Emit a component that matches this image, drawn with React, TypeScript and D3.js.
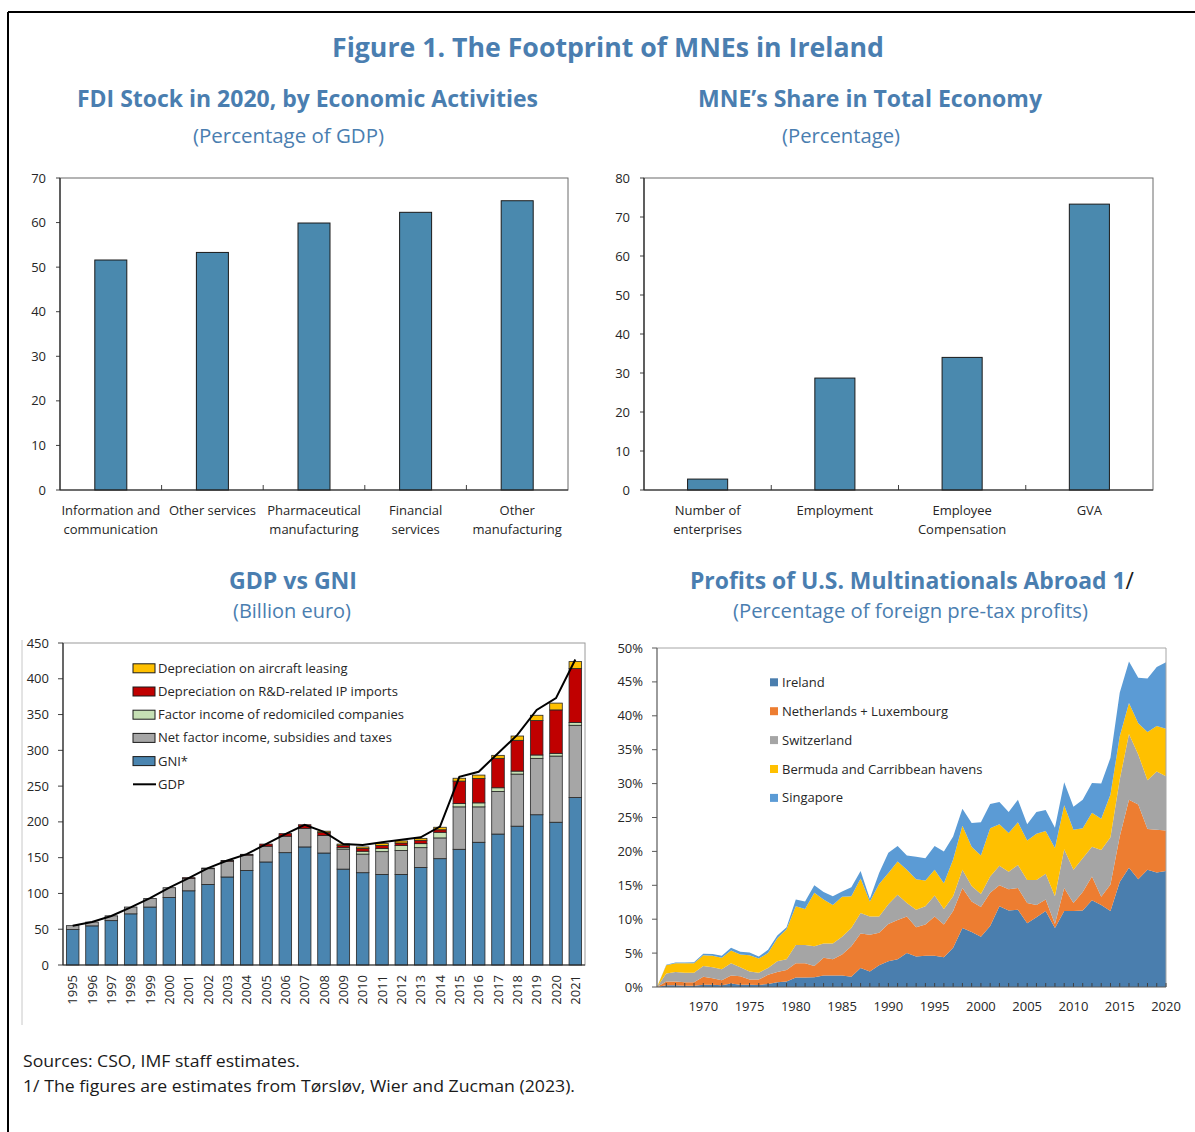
import React from 'react';
import * as d3 from 'd3';

// ---------- Data ----------
const fdiCategories = [['Information and', 'communication'], ['Other services'], ['Pharmaceutical', 'manufacturing'], ['Financial', 'services'], ['Other', 'manufacturing']];
const fdiValues = [51.6, 53.3, 59.9, 62.3, 64.9];

const mneCategories = [['Number of', 'enterprises'], ['Employment'], ['Employee', 'Compensation'], ['GVA']];
const mneValues = [2.8, 28.7, 34.0, 73.3];

const gdpYears = ['1995', '1996', '1997', '1998', '1999', '2000', '2001', '2002', '2003', '2004', '2005', '2006', '2007', '2008', '2009', '2010', '2011', '2012', '2013', '2014', '2015', '2016', '2017', '2018', '2019', '2020', '2021'];
const gniStar = [49.5, 54.7, 62, 71.5, 81, 94.4, 103.7, 112.6, 123, 132, 144, 157, 165, 156.5, 134, 129, 126.6, 126.6, 136.4, 148.6, 161.7, 171.5, 183, 194, 210, 199.5, 234];
const netFactorIncome = [5.5, 5.3, 6.7, 9.5, 12, 13.6, 17.5, 22, 22, 21.5, 22, 23, 26, 24.5, 28, 26, 31.8, 33.4, 27.6, 29, 59.3, 49.5, 59.5, 72.8, 78.8, 92.5, 101];
const redomiciledIncome = [0, 0, 0, 0, 0, 0, 0, 0, 0, 0, 0, 0, 0, 0, 2, 4, 4.6, 7, 5.6, 7.9, 4.7, 5.6, 5.2, 4.2, 4.7, 3.8, 4];
const rdDepreciation = [0, 0, 0, 0, 0, 0, 0.8, 0.9, 1, 1.2, 3, 3.6, 5, 4, 3.3, 4, 4, 3.5, 4.7, 3.5, 31.3, 34.1, 41.1, 43, 48.1, 60.7, 75.5];
const aircraftDepreciation = [0, 0, 0, 0, 0, 0, 0, 0, 0, 0, 0, 0, 0, 2, 1.7, 2, 3, 2.9, 2.7, 3.5, 4, 4.7, 4.2, 6, 7.4, 9.5, 9.5];
const gdpValues = [55, 60, 68.5, 80.5, 93.5, 108, 121.5, 135.5, 146, 155, 169, 183, 196, 186, 169, 167.7, 171.5, 175, 178.5, 193.5, 263, 270, 296, 321.5, 356.5, 373, 427];
const gdpLegend = ['Depreciation on aircraft leasing', 'Depreciation on R&D-related IP imports', 'Factor income of redomiciled companies', 'Net factor income, subsidies and taxes', 'GNI*', 'GDP'];

const profitYears = d3.range(1965, 2021);
const ireland = [0, .25, .25, .2, .2, .35, .35, .25, .5, .35, .35, .3, .45, .7, .8, 1.4, 1.4, 1.45, 1.7, 1.7, 1.7, 1.5, 2.8, 2.3, 3.2, 3.8, 4.1, 5.0, 4.5, 4.6, 4.6, 4.4, 5.8, 8.7, 8.1, 7.4, 9.0, 11.9, 11.3, 11.4, 9.4, 10.3, 11.2, 8.7, 11.2, 11.2, 11.3, 12.8, 12.1, 11.2, 15.5, 17.6, 15.9, 17.3, 16.9, 17.1];
const netherlandsLux = [0, .55, .55, .5, .5, 1.15, .95, .75, 1.2, 1.25, .75, .8, 1.35, 1.5, 1.7, 2.1, 2.1, 1.65, 2.6, 2.4, 3.1, 4.5, 5.1, 5.4, 4.8, 5.5, 5.8, 5.4, 4.3, 4.6, 5.8, 4.8, 5.4, 5.9, 4.5, 4.4, 4.9, 3.1, 3.1, 3.2, 3.0, 1.8, 1.7, 0.6, 3.4, 1.2, 2.7, 3.5, 1.2, 3.9, 6.7, 10.0, 11.0, 6.0, 6.3, 6.0];
const switzerland = [0, 1.2, 1.4, 1.4, 1.4, 1.6, 1.6, 1.6, 1.8, 1.3, 1.2, 1.0, 1.0, 1.6, 1.6, 2.7, 2.7, 2.9, 2.1, 2.3, 2.6, 2.7, 3.0, 2.7, 2.4, 2.9, 3.7, 2.0, 2.6, 2.7, 3.1, 2.3, 2.2, 2.7, 2.3, 1.9, 2.4, 2.9, 2.6, 3.4, 3.4, 3.7, 3.8, 4.1, 5.7, 4.9, 5.0, 4.4, 6.9, 7.0, 8.4, 9.7, 7.4, 7.2, 8.6, 8.0];
const bermudaCaribbean = [0, 1.2, 1.3, 1.4, 1.4, 1.6, 1.7, 1.7, 1.9, 1.9, 2.4, 2.1, 2.2, 3.4, 4.4, 5.7, 5.3, 7.9, 6.5, 5.7, 5.9, 4.7, 5.1, 2.2, 4.8, 4.6, 4.9, 4.9, 4.5, 3.8, 3.8, 3.8, 5.4, 6.5, 5.8, 5.7, 7.1, 6.1, 5.7, 6.3, 5.8, 6.8, 6.3, 7.1, 6.5, 5.9, 4.4, 5.0, 4.6, 6.3, 6.4, 4.6, 4.6, 7.1, 6.7, 7.0];
const singapore = [0, .1, .1, .1, .15, .2, .25, .3, .4, .4, .4, .3, .5, .4, .3, 1.0, 1.1, 1.1, 1.1, 1.3, .8, 1.3, 1.1, .4, 1.6, 3.0, 2.3, 2.1, 3.3, 3.3, 3.5, 4.7, 3.4, 2.5, 3.5, 4.9, 3.6, 3.3, 3.1, 3.3, 2.4, 3.2, 3.1, 3.0, 3.4, 3.4, 4.2, 4.4, 5.2, 5.4, 6.4, 6.1, 6.7, 7.9, 8.7, 9.8];
const profitLegend = ['Ireland', 'Netherlands + Luxembourg', 'Switzerland', 'Bermuda and Carribbean havens', 'Singapore'];
const profitYearLabels = [1970, 1975, 1980, 1985, 1990, 1995, 2000, 2005, 2010, 2015, 2020];

// ---------- Style ----------
const FONT = "'Open Sans', 'Noto Sans', sans-serif";
const TITLE_BLUE = '#4A7EB0';
const TEXT = '#262626';
const BAR_BLUE = '#4A89AE';

type Plot = { x: number; y: number; w: number; h: number };

function Title({ x, y, text, len, size, bold, children }: any) {
  return (
    <text x={x} y={y} textAnchor="middle" fontFamily={FONT} fontSize={size} fontWeight={bold ? 700 : 400}
      fill={TITLE_BLUE} textLength={len} lengthAdjust="spacingAndGlyphs">
      {children ?? text}
    </text>
  );
}

function BarPanel({ plot, cats, values, ymax, step }: { plot: Plot; cats: string[][]; values: number[]; ymax: number; step: number }) {
  const x = d3.scaleBand<number>().domain(values.map((_, i) => i)).range([plot.x, plot.x + plot.w]).paddingInner(0.685).paddingOuter(0.3425);
  const y = d3.scaleLinear().domain([0, ymax]).range([plot.y + plot.h, plot.y]);
  const stepW = plot.w / values.length;
  const bottom = plot.y + plot.h;
  return (
    <g>
      <rect x={plot.x} y={plot.y} width={plot.w} height={plot.h} fill="none" stroke="#6b6b6b" strokeWidth={1} />
      {y.ticks(ymax / step).map(t => (
        <g key={t}>
          <line x1={plot.x - 4} x2={plot.x} y1={y(t)} y2={y(t)} stroke="#404040" />
          <text x={plot.x - 14} y={y(t) + 4.5} textAnchor="end" fontFamily={FONT} fontSize={13} fill={TEXT}>{t}</text>
        </g>
      ))}
      {values.map((v, i) => (
        <rect key={i} x={x(i)} y={y(v)} width={x.bandwidth()} height={bottom - y(v)} fill={BAR_BLUE} stroke="#1a1a1a" strokeWidth={1} />
      ))}
      {d3.range(1, values.length).map(i => (
        <line key={i} x1={plot.x + i * stepW} x2={plot.x + i * stepW} y1={bottom} y2={bottom - 5} stroke="#404040" />
      ))}
      <line x1={plot.x} x2={plot.x} y1={plot.y} y2={bottom} stroke="#262626" strokeWidth={1.2} />
      <line x1={plot.x} x2={plot.x + plot.w} y1={bottom} y2={bottom} stroke="#262626" strokeWidth={1.2} />
      {cats.map((lines, i) => (
        <text key={i} textAnchor="middle" fontFamily={FONT} fontSize={13} fill={TEXT}>
          {lines.map((l, j) => (
            <tspan key={j} x={(x(i) as number) + x.bandwidth() / 2} y={bottom + 25 + j * 19}>{l}</tspan>
          ))}
        </text>
      ))}
    </g>
  );
}

function GdpPanel() {
  const plot: Plot = { x: 63, y: 643, w: 522, h: 322 };
  const bottom = plot.y + plot.h;
  const x = d3.scaleBand<string>().domain(gdpYears).range([plot.x, plot.x + plot.w]).paddingInner(0.35).paddingOuter(0.175);
  const y = d3.scaleLinear().domain([0, 450]).range([bottom, plot.y]);
  const keys = ['gni', 'nfi', 'redom', 'rd', 'air'];
  const colors: Record<string, string> = { gni: '#4A85B0', nfi: '#A6A6A6', redom: '#C6E0B4', rd: '#C00000', air: '#FFC000' };
  const rows = gdpYears.map((yr, i) => ({ year: yr, gni: gniStar[i], nfi: netFactorIncome[i], redom: redomiciledIncome[i], rd: rdDepreciation[i], air: aircraftDepreciation[i] }));
  const stack = d3.stack<any>().keys(keys)(rows);
  const line = d3.line<number>().x((_, i) => (x(gdpYears[i]) as number) + x.bandwidth() / 2).y(d => y(d));
  const legendColors = [colors.air, colors.rd, colors.redom, colors.nfi, colors.gni];
  return (
    <g>
      <line x1={22} x2={22} y1={640} y2={1025} stroke="#c8c8c8" strokeWidth={1} />
      <rect x={plot.x} y={plot.y} width={plot.w} height={plot.h} fill="none" stroke="#9a9a9a" strokeWidth={1} />
      {y.ticks(9).map(t => (
        <g key={t}>
          <line x1={plot.x - 5} x2={plot.x} y1={y(t)} y2={y(t)} stroke="#404040" />
          <text x={plot.x - 14} y={y(t) + 4.5} textAnchor="end" fontFamily={FONT} fontSize={13} fill={TEXT}>{t}</text>
        </g>
      ))}
      {stack.map(s => (
        <g key={s.key}>
          {s.map((d, i) => (d[1] - d[0] > 0 ? (
            <rect key={i} x={x(gdpYears[i])} y={y(d[1])} width={x.bandwidth()} height={y(d[0]) - y(d[1])}
              fill={colors[s.key]} stroke="#262626" strokeWidth={0.8} />
          ) : null))}
        </g>
      ))}
      <path d={line(gdpValues) as string} fill="none" stroke="#000" strokeWidth={2} />
      <line x1={plot.x} x2={plot.x} y1={plot.y} y2={bottom} stroke="#262626" strokeWidth={1.2} />
      <line x1={plot.x} x2={plot.x + plot.w} y1={bottom} y2={bottom} stroke="#262626" strokeWidth={1.2} />
      {gdpYears.map(yr => {
        const cx = (x(yr) as number) + x.bandwidth() / 2;
        return (
          <text key={yr} transform={`translate(${cx + 4.5},${bottom + 10}) rotate(-90)`} textAnchor="end"
            fontFamily={FONT} fontSize={13} fill={TEXT}>{yr}</text>
        );
      })}
      {gdpLegend.map((label, i) => {
        const cy = 668.3 + i * 23.2;
        return (
          <g key={label}>
            {i < 5 ? (
              <rect x={133} y={cy - 4.5} width={22} height={9} fill={legendColors[i]} stroke="#1a1a1a" strokeWidth={1} />
            ) : (
              <line x1={133} x2={156} y1={cy} y2={cy} stroke="#000" strokeWidth={2} />
            )}
            <text x={158} y={cy + 4.5} fontFamily={FONT} fontSize={13} fill={TEXT}>{label}</text>
          </g>
        );
      })}
    </g>
  );
}

function ProfitPanel() {
  const plot: Plot = { x: 657, y: 648, w: 509, h: 339 };
  const bottom = plot.y + plot.h;
  const x = d3.scaleLinear().domain([1965, 2020]).range([plot.x, plot.x + plot.w]);
  const y = d3.scaleLinear().domain([0, 50]).range([bottom, plot.y]);
  const keys = ['ie', 'nl', 'ch', 'bm', 'sg'];
  const colors = ['#4A7EAE', '#ED7D31', '#A5A5A5', '#FFC000', '#5B9BD5'];
  const rows = profitYears.map((yr, i) => ({ year: yr, ie: ireland[i], nl: netherlandsLux[i], ch: switzerland[i], bm: bermudaCaribbean[i], sg: singapore[i] }));
  const stack = d3.stack<any>().keys(keys)(rows);
  const area = d3.area<any>().x(d => x(d.data.year)).y0(d => y(d[0])).y1(d => y(d[1]));
  return (
    <g>
      {stack.map((s, i) => (
        <path key={s.key} d={area(s) as string} fill={colors[i]} stroke="none" />
      ))}
      <line x1={plot.x} x2={plot.x + plot.w} y1={plot.y} y2={plot.y} stroke="#a6a6a6" />
      <line x1={plot.x + plot.w} x2={plot.x + plot.w} y1={plot.y} y2={bottom} stroke="#a6a6a6" />
      {y.ticks(10).map(t => (
        <g key={t}>
          <line x1={plot.x - 5} x2={plot.x} y1={y(t)} y2={y(t)} stroke="#595959" />
          <text x={plot.x - 14} y={y(t) + 4.5} textAnchor="end" fontFamily={FONT} fontSize={13} fill={TEXT}>{t}%</text>
        </g>
      ))}
      {profitYears.slice(1).map(yr => (
        <line key={yr} x1={x(yr)} x2={x(yr)} y1={bottom} y2={bottom - 4} stroke="#404040" />
      ))}
      <line x1={plot.x} x2={plot.x} y1={plot.y} y2={bottom} stroke="#595959" strokeWidth={1.2} />
      <line x1={plot.x} x2={plot.x + plot.w} y1={bottom} y2={bottom} stroke="#595959" strokeWidth={1.2} />
      {profitYearLabels.map(yr => (
        <text key={yr} x={x(yr)} y={bottom + 24} textAnchor="middle" fontFamily={FONT} fontSize={13} fill={TEXT}>{yr}</text>
      ))}
      {profitLegend.map((label, i) => {
        const cy = 682.3 + i * 28.9;
        return (
          <g key={label}>
            <rect x={770} y={cy - 4} width={8} height={8} fill={colors[i]} />
            <text x={782} y={cy + 4.5} fontFamily={FONT} fontSize={13} fill={TEXT}>{label}</text>
          </g>
        );
      })}
    </g>
  );
}

export default function App() {
  return (
    <svg width={1195} height={1132} viewBox="0 0 1195 1132" style={{ position: 'absolute', left: 0, top: 0, background: '#fff' }}>
      <rect x={0} y={0} width={1195} height={1132} fill="#fff" />
      <line x1={8} x2={1195} y1={12} y2={12} stroke="#000" strokeWidth={2} />
      <line x1={8} x2={8} y1={12} y2={1132} stroke="#000" strokeWidth={2} />

      <Title x={608} y={57} text="Figure 1. The Footprint of MNEs in Ireland" len={552} size={26} bold />
      <Title x={307.5} y={107} text="FDI Stock in 2020, by Economic Activities" len={461} size={23} bold />
      <Title x={288.5} y={143} text="(Percentage of GDP)" len={191} size={20} />
      <Title x={870} y={107} text="MNE’s Share in Total Economy" len={344} size={23} bold />
      <Title x={841} y={143} text="(Percentage)" len={118} size={20} />
      <Title x={293} y={589} text="GDP vs GNI" len={128} size={23} bold />
      <Title x={292} y={618} text="(Billion euro)" len={118} size={20} />
      <Title x={912} y={589} len={444} size={23} bold>
        Profits of U.S. Multinationals Abroad 1<tspan fill="#1a1a1a" fontWeight={400}>/</tspan>
      </Title>
      <Title x={910.5} y={618} text="(Percentage of foreign pre-tax profits)" len={355} size={20} />

      <BarPanel plot={{ x: 60, y: 178, w: 508, h: 312 }} cats={fdiCategories} values={fdiValues} ymax={70} step={10} />
      <BarPanel plot={{ x: 644, y: 178, w: 509, h: 312 }} cats={mneCategories} values={mneValues} ymax={80} step={10} />
      <GdpPanel />
      <ProfitPanel />

      <text x={23} y={1067} fontFamily={FONT} fontSize={17} fill="#1a1a1a" textLength={277} lengthAdjust="spacingAndGlyphs">Sources: CSO, IMF staff estimates.</text>
      <text x={23} y={1092} fontFamily={FONT} fontSize={17} fill="#1a1a1a" textLength={552} lengthAdjust="spacingAndGlyphs">1/ The figures are estimates from Tørsløv, Wier and Zucman (2023).</text>
    </svg>
  );
}
